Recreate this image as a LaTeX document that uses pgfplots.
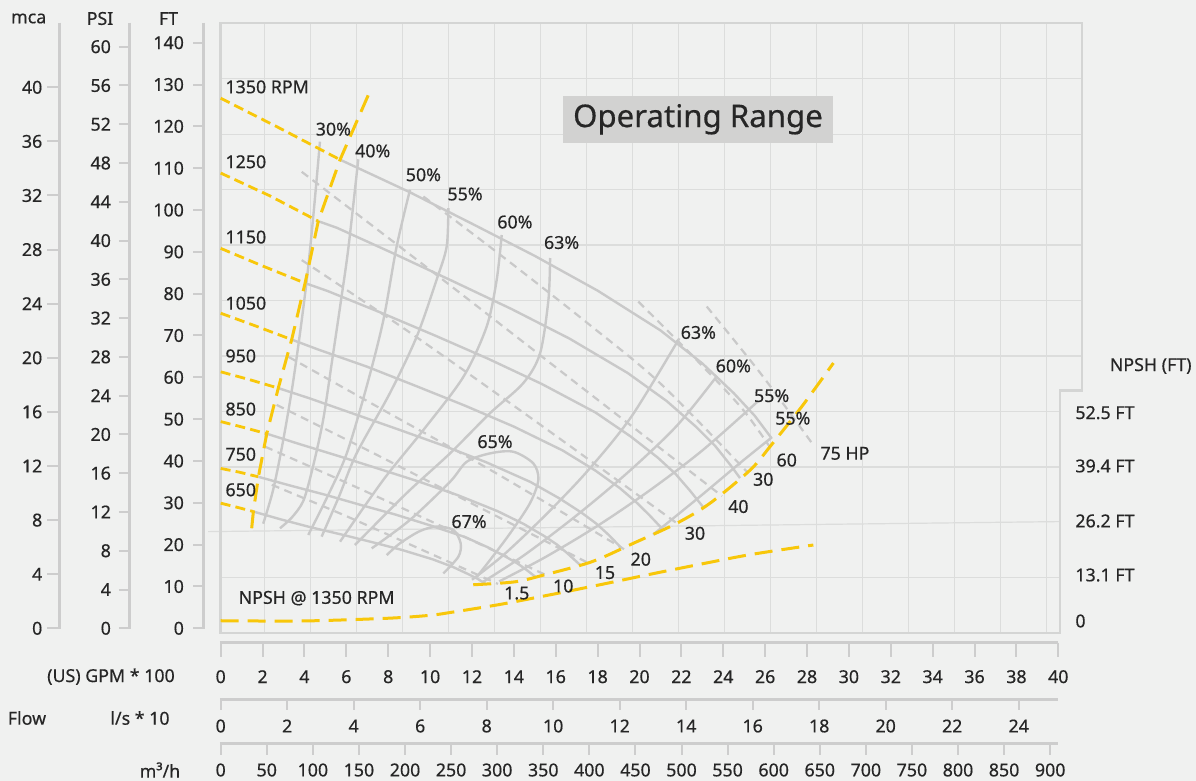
\documentclass[border=0pt]{standalone}
\usepackage{fontspec}
\setmainfont{Noto Sans}[FakeBold=0.45]
\usepackage{pgfplots}
\pgfplotsset{compat=1.18}
\definecolor{bg}{HTML}{F0F1F0}
\definecolor{gridc}{HTML}{DCDDDC}
\definecolor{bordc}{HTML}{D4D5D4}
\definecolor{axc}{HTML}{CDCDCD}
\definecolor{curve}{HTML}{C9C9C9}
\definecolor{gold}{HTML}{F8C70A}
\definecolor{txt}{HTML}{262626}
\definecolor{boxc}{HTML}{D2D2D1}
\tikzset{
 speed/.style={curve, line width=1.2pt},
 eff/.style={curve, line width=1.2pt, smooth},
 power/.style={curve, line width=1.1pt, dash pattern=on 4pt off 2.8pt, smooth},
 ysh/.style={gold, line width=1.4pt, dash pattern=on 5pt off 2.6pt},
 ylg/.style={gold, line width=1.5pt, dash pattern=on 9pt off 4.5pt},
 lab/.style={font=\fontsize{8.9}{10}\selectfont, text=txt, inner sep=0pt},
}
\begin{document}
\begin{tikzpicture}
\begin{scope}[shift={(-110.35pt,316.65pt)},x=0.5pt,y=-0.5pt]
 \fill[bg] (0,0) rectangle (1196,781);
 \path[use as bounding box] (0,0) rectangle (1196,781);
\end{scope}
\begin{axis}[
  at={(0,0)}, anchor=south west,
  scale only axis, width=430.65pt, height=305pt,
  xmin=0, xmax=41.13, ymin=-1.2, ymax=144.6,
  axis lines=none, clip=false, no markers,
]
% grid
\pgfplotsinvokeforeach{2.082,4.280,6.478,8.676,10.874,13.072,15.270,17.468,19.666,21.864,24.062,26.260,28.458,30.656,32.854,35.052,37.250,39.448}{
  \draw[gridc, line width=0.6pt] (axis cs:#1,-1.2) -- (axis cs:#1,144.6);}
\pgfplotsinvokeforeach{12.06,38.57,51.83}{
  \draw[gridc, line width=0.6pt] (axis cs:0,#1) -- (axis cs:40.09,#1);}
\draw[gridc, line width=0.6pt] (axis cs:-0.6,23.1) -- (axis cs:40.09,25.5);
\pgfplotsinvokeforeach{65.09,78.34,91.60,104.85,118.11,131.37}{
  \draw[gridc, line width=0.6pt] (axis cs:0,#1) -- (axis cs:41.13,#1);}
\draw[bordc, line width=1.2pt] (axis cs:0,-1.2) -- (axis cs:40.09,-1.2) -- (axis cs:40.09,56.8) -- (axis cs:41.13,56.8) -- (axis cs:41.13,144.6) -- (axis cs:0,144.6) -- cycle;

% power lines (dashed gray)
\addplot[power] coordinates {(23.21,76.9) (25.8,60.8) (28.30,43.8)};
\addplot[power] coordinates {(19.94,78.1) (22.73,64.1) (24.9,52.5) (26.2,43.5)};
\addplot[power] coordinates {(9.68,103.2) (13.42,89.0) (17.5,73.0) (21.0,58.5) (25.13,37.4)};
\addplot[power] coordinates {(3.87,109.1) (10.3,84.5) (17,58.5) (23.94,31.6)};
\addplot[power] coordinates {(3.87,88.0) (9,70.8) (15,49.6) (21.84,24.9)};
\addplot[power] coordinates {(3.23,64.9) (8,51.5) (13,37.5) (19.26,18.9)};
\addplot[power] coordinates {(2.67,53.4) (7,42.6) (12,29.8) (17.59,15.5)};
\addplot[power] coordinates {(2.12,43.4) (6,34.8) (10.5,24.5) (15.58,12.6)};
\addplot[power] coordinates {(2.44,34.3) (6,26.8) (9.5,19.0) (13.24,10.6)};

% efficiency curves
\addplot[eff] coordinates {(4.74,116.3) (4.45,100) (4.15,85) (3.80,71) (3.40,57) (2.95,44) (2.50,33) (2.03,25.0)};
\addplot[eff] coordinates {(6.57,112.1) (6.10,91.0) (5.72,77.5) (5.35,65.0) (4.90,50.0) (4.40,38.5) (3.95,30.5) (3.40,26.5) (2.83,23.9)};
\addplot[eff] coordinates {(9.04,104.8) (8.40,91.2) (7.77,73.7) (6.97,57.8) (6.02,41.8) (5.1,31.5) (4.18,22.3)};
\addplot[eff] coordinates {(10.87,100.4) (10.79,91.2) (10.31,83.3) (9.36,69.7) (8.08,56.2) (6.49,41.8) (5.65,31.5) (4.82,21.9)};
\addplot[eff] coordinates {(13.42,94.0) (13.18,83.3) (12.70,72.1) (11.59,60.1) (9.68,47.4) (7.77,35.5) (5.70,20.7)};
\addplot[eff] coordinates {(15.73,88.5) (15.65,78.5) (15.25,65.7) (14.45,58.6) (12.86,51.4) (10.95,41.8) (8.88,32.3) (6.41,19.9)};
\addplot[eff] coordinates {(7.21,19.1) (9.04,25.9) (10.95,35.0) (11.75,39.8) (12.86,41.8) (13.97,42.2) (14.93,39.4) (15.17,35.5) (14.77,29.9) (13.82,22.7) (12.86,16.3) (12.23,12.3)};
\addplot[eff] coordinates {(7.93,17.5) (8.56,20.3) (9.5,23.2) (10.31,24.3) (11.11,23.5) (11.46,20.3) (11.35,17.1) (10.63,13.1)};
\addplot[eff] coordinates {(12.0,11.6) (13.5,17.5) (15.5,27.0) (17.5,37.5) (19.6,50.5) (21.9,69.3)};
\addplot[eff] coordinates {(12.5,11.0) (14.5,17.5) (17.0,27.0) (19.5,37.5) (21.8,48.5) (23.7,60.3)};
\addplot[eff] coordinates {(13.3,11.2) (15.5,17.0) (18.0,24.5) (20.5,33.0) (23.0,42.5) (25.6,54.0)};
\addplot[eff] coordinates {(20.65,22.4) (22.89,31.5) (24.8,39.5) (26.31,45.6)};

% speed curves
\addplot[ysh] coordinates {(0,126.7) (2.83,119.5) (5.70,112.0)};
\addplot[speed] coordinates {(5.70,112.0) (6,111.3) (9,104.3) (12,96.7) (15,89.0) (18,80.7) (21,71.2) (23,63.3) (24.5,56.2) (25.5,50.8) (26.31,45.4)};
\addplot[ysh] coordinates {(0,108.8) (2.33,103.4) (4.66,97.3)};
\addplot[speed] coordinates {(4.66,97.3) (5.56,95.7) (8.33,89.4) (11.11,82.9) (13.89,76.3) (16.67,69.2) (19.44,61.0) (21.30,54.3) (22.69,48.2) (23.61,43.6) (24.36,38.9) (24.80,35.9)};
\addplot[ysh] coordinates {(0,90.8) (2.0,86.6) (4.03,82.5)};
\addplot[speed] coordinates {(4.03,82.5) (5.11,80.6) (7.67,75.4) (10.22,70.0) (12.78,64.4) (15.33,58.4) (17.89,51.6) (19.59,45.8) (20.87,40.8) (21.72,36.9) (22.41,32.9) (23.05,28.9)};
\addplot[ysh] coordinates {(0,75.3) (1.7,72.2) (3.39,69.0)};
\addplot[speed] coordinates {(3.39,69.0) (4.67,66.6) (7.0,62.5) (9.33,57.9) (11.67,53.2) (14.0,48.2) (16.33,42.5) (17.89,37.7) (19.06,33.5) (19.83,30.2) (20.46,27.1) (21.12,23.6)};
\addplot[ysh] coordinates {(0,61.3) (1.4,59.4) (2.75,57.4)};
\addplot[speed] coordinates {(2.75,57.4) (4.22,55.0) (6.33,51.3) (8.44,47.6) (10.56,43.8) (12.67,39.7) (14.78,35.0) (16.19,31.0) (17.24,27.6) (17.94,25.0) (18.51,22.4) (19.15,19.1)};
\addplot[ysh] coordinates {(0,49.4) (1.1,48.0) (2.20,46.5)};
\addplot[speed] coordinates {(2.20,46.5) (3.78,44.0) (5.67,41.1) (7.56,38.1) (9.44,35.1) (11.33,31.8) (13.22,28.0) (14.48,24.9) (15.43,22.1) (16.06,20.0) (16.56,17.9) (17.16,15.15)};
\addplot[ysh] coordinates {(0,38.2) (0.9,37.3) (1.80,36.2)};
\addplot[speed] coordinates {(1.80,36.2) (3.33,34.1) (5.0,31.9) (6.67,29.5) (8.33,27.2) (10.0,24.6) (11.67,21.8) (12.78,19.3) (13.61,17.1) (14.17,15.5) (14.62,13.9) (15.04,12.25)};
\addplot[ysh] coordinates {(0,29.9) (0.8,28.9) (1.56,27.9)};
\addplot[speed] coordinates {(1.56,27.9) (2.89,26.0) (4.33,24.1) (5.78,22.4) (7.22,20.6) (8.67,18.7) (10.11,16.5) (11.07,14.7) (11.80,13.0) (12.28,11.8) (12.66,10.55)};

% yellow boundaries
\addplot[ylg] coordinates {(1.48,23.9) (1.56,27.9) (1.80,36.2) (2.20,46.5) (2.75,57.4) (3.39,69.0) (4.03,82.5) (4.66,97.3) (5.70,112.0) (7.21,129.3)};
\addplot[ylg, smooth] coordinates {(12.06,10.4) (14.05,11.1) (15.41,12.7) (17.72,15.9) (19.70,20.3) (21.78,25.1) (23.37,29.9) (25.28,37.8) (26.23,43.4) (27.75,53.0) (29.26,63.4)};
\addplot[ylg, smooth] coordinates {(0,1.8) (4,1.75) (8,2.4) (10,3.1) (11,3.8) (13.34,5.7) (15.73,8.0) (18.11,10.4) (20.5,12.9) (22.89,15.3) (25.28,17.6) (28.3,19.9)};

% labels
\node[lab, anchor=west] at (axis cs:0.21,129.4) {1350 RPM};
\node[lab, anchor=west] at (axis cs:0.21,111.5) {1250};
\node[lab, anchor=west] at (axis cs:0.21,93.5) {1150};
\node[lab, anchor=west] at (axis cs:0.21,77.7) {1050};
\node[lab, anchor=west] at (axis cs:0.21,65.1) {950};
\node[lab, anchor=west] at (axis cs:0.21,52.4) {850};
\node[lab, anchor=west] at (axis cs:0.21,41.6) {750};
\node[lab, anchor=west] at (axis cs:0.21,33.1) {650};
\node[lab, anchor=west] at (axis cs:0.84,7.2) {NPSH @ 1350 RPM};
\node[lab] at (axis cs:5.38,119.3) {30\%};
\node[lab] at (axis cs:7.26,114.1) {40\%};
\node[lab] at (axis cs:9.68,108.4) {50\%};
\node[lab] at (axis cs:11.67,103.8) {55\%};
\node[lab] at (axis cs:14.05,97.1) {60\%};
\node[lab] at (axis cs:16.28,92.2) {63\%};
\node[lab] at (axis cs:22.81,70.7) {63\%};
\node[lab] at (axis cs:24.48,62.7) {60\%};
\node[lab] at (axis cs:26.31,55.6) {55\%};
\node[lab] at (axis cs:27.32,50.2) {55\%};
\node[lab] at (axis cs:13.10,44.6) {65\%};
\node[lab] at (axis cs:11.86,25.5) {67\%};
\node[lab] at (axis cs:29.81,41.8) {75 HP};
\node[lab] at (axis cs:27.03,40.2) {60};
\node[lab] at (axis cs:25.91,35.6) {30};
\node[lab] at (axis cs:24.72,29.1) {40};
\node[lab] at (axis cs:22.65,22.7) {30};
\node[lab] at (axis cs:20.06,16.5) {20};
\node[lab] at (axis cs:18.35,13.3) {15};
\node[lab] at (axis cs:16.36,10.1) {10};
\node[lab] at (axis cs:14.14,8.4) {1.5};
\end{axis}

\begin{scope}[shift={(-110.35pt,316.65pt)},x=0.5pt,y=-0.5pt]
 % title box
 \fill[boxc] (563.3,96) rectangle (833,142.7);
 \node[font=\fontsize{15.6}{18}\selectfont, text=txt, inner sep=0pt] at (698,119.3) {Operating Range};
 % left scales
 \draw[axc, line width=1.5pt] (59.3,22.7) -- (59.3,629);
 \draw[axc, line width=1.5pt] (130,22.7) -- (130,629);
 \draw[axc, line width=1.5pt] (203.3,22.7) -- (203.3,629);
 \foreach \v in {0,4,...,40}{
   \pgfmathsetmacro{\yy}{628.3-\v*13.525}
   \draw[axc, line width=1pt] (47.3,\yy) -- (59.3,\yy);
   \node[lab, anchor=east] at (42.7,\yy) {\v};
 }
 \foreach \v in {0,4,...,60}{
   \pgfmathsetmacro{\yy}{628.3-\v*9.693}
   \draw[axc, line width=1pt] (119,\yy) -- (130,\yy);
   \node[lab, anchor=east] at (111.3,\yy) {\v};
 }
 \foreach \v in {0,10,...,140}{
   \pgfmathsetmacro{\yy}{628.3-\v*4.183}
   \draw[axc, line width=1pt] (193.3,\yy) -- (203.3,\yy);
   \node[lab, anchor=east] at (184.3,\yy) {\v};
 }
 \node[lab] at (28.7,18.5) {mca};
 \node[lab] at (100,18.5) {PSI};
 \node[lab] at (168.5,18.5) {FT};
 % bottom scales
 \draw[axc, line width=1.5pt] (220,642.7) -- (1058.3,642.7);
 \draw[axc, line width=1.5pt] (220,699.3) -- (1058.3,699.3);
 \draw[axc, line width=1.5pt] (220,744) -- (1058.3,744);
 \foreach \v in {0,2,...,40}{
   \pgfmathsetmacro{\xx}{220.7+\v*20.94}
   \draw[axc, line width=1pt] (\xx,642.7) -- (\xx,657);
   \node[lab] at (\xx,676.7) {\v};
 }
 \foreach \v in {0,2,...,24}{
   \pgfmathsetmacro{\xx}{220.7+\v*33.25}
   \draw[axc, line width=1pt] (\xx,699.3) -- (\xx,710);
   \node[lab] at (\xx,726) {\v};
 }
 \foreach \v in {0,50,...,900}{
   \pgfmathsetmacro{\xx}{220.7+\v*0.92167}
   \draw[axc, line width=1pt] (\xx,744) -- (\xx,755);
   \node[lab] at (\xx,770) {\v};
 }
 \node[lab] at (111,676.7) {(US) GPM * 100};
 \node[lab] at (27,718) {Flow};
 \node[lab] at (140,718) {l/s * 10};
 \node[lab] at (160,770) {m³/h};
 % right NPSH scale labels
 \node[lab] at (1150.7,366) {NPSH (FT)};
 \node[lab, anchor=west] at (1075,412.7) {52.5 FT};
 \node[lab, anchor=west] at (1075,466) {39.4 FT};
 \node[lab, anchor=west] at (1075,521) {26.2 FT};
 \node[lab, anchor=west] at (1075,575) {13.1 FT};
 \node[lab, anchor=west] at (1075,621) {0};
\end{scope}
\end{tikzpicture}
\end{document}
